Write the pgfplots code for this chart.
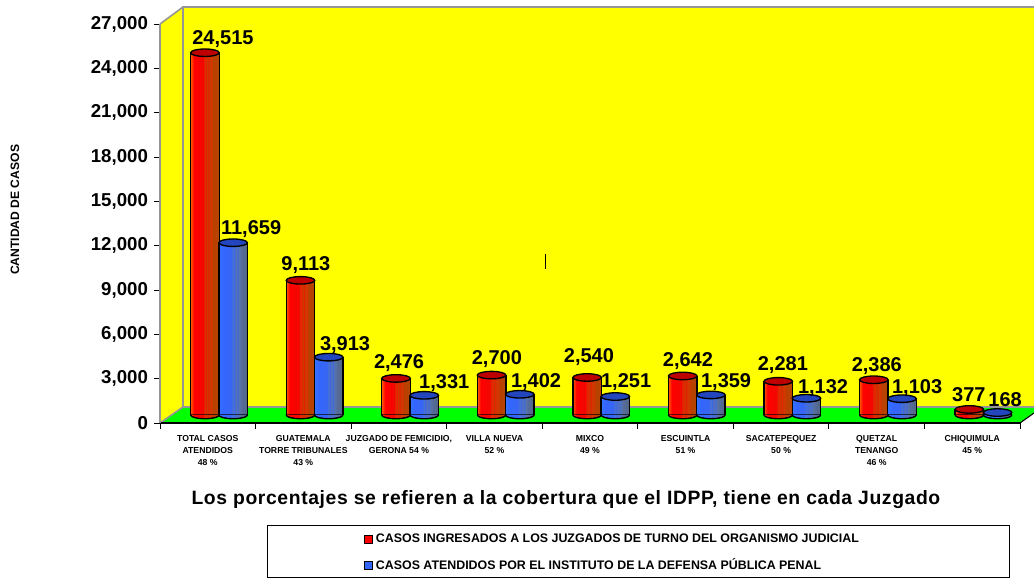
\documentclass[border=0pt]{standalone}
\usepackage{fontspec}
\setmainfont{Liberation Sans}
\usepackage{pgfplots}
\usepackage{pgfplotstable}
\pgfplotsset{compat=1.18}

\definecolor{wallYellow}{RGB}{255,255,0}
\definecolor{floorGreen}{RGB}{0,255,0}
\definecolor{wallLine}{RGB}{150,150,150}
\definecolor{redTop}{RGB}{190,0,0}
\definecolor{blueTop}{RGB}{35,70,190}
\definecolor{redLegend}{RGB}{255,0,0}
\definecolor{blueLegend}{RGB}{51,102,255}

% striped cylinder faces (25bp to 75bp is the width of the bar)
\pgfdeclarehorizontalshading{redcyl}{100bp}{
  rgb(0bp)=(1,0.35,0); rgb(25bp)=(1,0.35,0); rgb(31bp)=(1,0,0); rgb(47bp)=(0.95,0.03,0);
  rgb(50bp)=(0.85,0.2,0); rgb(51.5bp)=(0.95,0.1,0); rgb(54bp)=(0.75,0.25,0);
  rgb(56bp)=(0.9,0.12,0); rgb(59bp)=(0.78,0.25,0); rgb(61bp)=(0.85,0.2,0);
  rgb(64bp)=(0.72,0.25,0); rgb(75bp)=(0.72,0.27,0); rgb(100bp)=(0.72,0.27,0)}
\pgfdeclarehorizontalshading{bluecyl}{100bp}{
  rgb(0bp)=(0.2,0.45,1); rgb(25bp)=(0.2,0.45,1); rgb(32bp)=(0.2,0.4,1); rgb(47bp)=(0.22,0.4,0.95);
  rgb(50bp)=(0.3,0.45,0.8); rgb(52bp)=(0.22,0.4,0.9); rgb(55bp)=(0.35,0.45,0.7);
  rgb(57.5bp)=(0.25,0.42,0.85); rgb(61bp)=(0.35,0.45,0.65); rgb(65bp)=(0.33,0.42,0.6);
  rgb(75bp)=(0.33,0.4,0.52); rgb(100bp)=(0.33,0.4,0.52)}

\pgfdeclareplotmark{redtop}{\path[draw=black,line width=1pt,fill=redTop] (0pt,0pt) ellipse (10.7pt and 2.8pt);}
\pgfdeclareplotmark{bluetop}{\path[draw=black,line width=1pt,fill=blueTop] (0pt,0pt) ellipse (10.7pt and 2.8pt);}
\pgfdeclareplotmark{redbot}{%
  \path[shade,shading=redcyl] (-10.7pt,0.5pt) -- (-10.7pt,0pt) arc[start angle=180,end angle=360,x radius=10.7pt,y radius=2.8pt] -- (10.7pt,0.5pt) -- cycle;
  \path[draw=black,line width=1pt] (-10.7pt,0pt) arc[start angle=180,end angle=360,x radius=10.7pt,y radius=2.8pt];}
\pgfdeclareplotmark{bluebot}{%
  \path[shade,shading=bluecyl] (-10.7pt,0.5pt) -- (-10.7pt,0pt) arc[start angle=180,end angle=360,x radius=10.7pt,y radius=2.8pt] -- (10.7pt,0.5pt) -- cycle;
  \path[draw=black,line width=1pt] (-10.7pt,0pt) arc[start angle=180,end angle=360,x radius=10.7pt,y radius=2.8pt];}

% x, value, label offset from the top of the bar (px)
\pgfplotstableread{
x      y      dx    dy
0.355  24515  18    13.7
1.355  9113   5.4   15.3
2.355  2476   3     15.4
3.355  2700   5.3   16
4.355  2540   1.8   20.5
5.355  2642   5.2   15
6.355  2281   4.6   16.3
7.355  2386   3     13.7
8.355  377    -0.5  14.4
}\ingresados
\pgfplotstableread{
x      y      dx    dy
0.65   11659  18    13.7
1.65   3913   16.4  12.2
2.65   1331   20    12.3
3.65   1402   16.3  12.3
4.65   1251   10.8  14.5
5.65   1359   15.2  12.9
6.65   1132   16.6  10.3
7.65   1103   15.1  10.7
8.65   168    7.5   12.5
}\atendidos

\pgfplotsset{valuelabels/.style={draw=none,mark=none,forget plot,
    visualization depends on={\thisrow{dx} \as \labeldx},
    visualization depends on={\thisrow{dy} \as \labeldy},
    nodes near coords,
    every node near coord/.append style={anchor=center,inner sep=0pt,
      font=\fontsize{15}{18}\selectfont\bfseries,
      xshift={\labeldx*0.75pt}, yshift={\labeldy*0.75pt}}}}

% one plot per bar, so that the shading fits each cylinder; sides as combs
\newcommand{\cylinders}[2]{%
  \pgfplotsinvokeforeach{0,...,8}{%
    \addplot[ybar,bar width=21.4pt,bar shift=0pt,draw=none,
      shade,shading=#2,forget plot,
      x filter/.expression={and(x>=##1,x<##1+1)?x:nan}] table[x=x,y=y] {#1};}
  \addplot[ycomb,black,line width=1pt,mark=none,forget plot] table[x expr=\thisrow{x}-0.1493,y=y] {#1};
  \addplot[ycomb,black,line width=1pt,mark=none,forget plot] table[x expr=\thisrow{x}+0.1493,y=y] {#1};}

\begin{document}
\begin{tikzpicture}[x=0.75pt,y=0.75pt,font=\bfseries]
\path[use as bounding box] (0,0) rectangle (1034,578);

% walls and floor (y counted from the bottom of the picture)
\fill[wallYellow] (183,171) -- (183,571) -- (1034,571) -- (1034,171) -- cycle;
\fill[wallYellow] (160,155) -- (183,171) -- (183,571) -- (160,554) -- cycle;
\fill[floorGreen] (160,155) -- (183,171) -- (1034,171) -- (1034,165) -- (1020,155) -- cycle;
\draw[wallLine,line width=1.2pt] (160,155) -- (183,171) -- (1034,171);
\draw[wallLine,line width=1.2pt] (183,171) -- (183,571) -- (1034,571);
\draw[wallLine,line width=1.2pt] (160,554) -- (183,571);
\draw[black,line width=0.8pt] (1020,155) -- (1034,165);
\draw[black,line width=0.6pt] (545,309) -- (545,324);

% frame, ticks and labels
\begin{axis}[
    at={(120pt,116.25pt)}, anchor=origin,
    scale only axis, width=645pt, height=299.25pt,
    xmin=0, xmax=9, ymin=0, ymax=27000,
    axis lines=left, axis line style={-},
    x axis line style={black,line width=0.9pt},
    y axis line style={wallLine,line width=1.2pt},
    ytick={0,3000,...,27000},
    scaled y ticks=false,
    /pgf/number format/1000 sep={,},
    /pgf/number format/assume math mode=true,
    yticklabel style={font=\fontsize{14}{16}\selectfont\bfseries, xshift=-1pt},
    xtick={0,...,9},
    x tick label as interval,
    xticklabels={{TOTAL CASOS\\ATENDIDOS\\48 \%},
      {GUATEMALA\\TORRE TRIBUNALES\\43 \%},
      {JUZGADO DE FEMICIDIO,\\GERONA 54 \%},
      {VILLA NUEVA\\52 \%},
      {MIXCO\\49 \%},
      {ESCUINTLA\\51 \%},
      {SACATEPEQUEZ\\50 \%},
      {QUETZAL\\TENANGO\\46 \%},
      {CHIQUIMULA\\45 \%}},
    xticklabel style={font=\fontsize{6.5}{8.8}\selectfont\bfseries,
      align=center, anchor=north, yshift=-1.5pt},
    tick style={black,line width=0.7pt},
    tick align=outside, tickwidth=4.5pt,
    xlabel={\fontsize{14.5}{17}\selectfont\bfseries\addfontfeatures{LetterSpace=3.2}Los porcentajes se refieren a la cobertura que el IDPP, tiene en cada Juzgado},
    xlabel style={at={(axis description cs:0.472,-0.191)},anchor=center},
    ylabel={\fontsize{9.1}{11}\selectfont\bfseries CANTIDAD DE CASOS},
    ylabel style={at={(axis description cs:-0.1686,0.534)},anchor=center},
]
\end{axis}

% cylinders, set back on the floor
\begin{axis}[
    at={(128.25pt,122.25pt)}, anchor=origin,
    scale only axis, width=645pt, height=299.25pt,
    xmin=0, xmax=9, ymin=0, ymax=27000,
    hide axis, clip=false,
    /pgf/number format/1000 sep={,},
    /pgf/number format/assume math mode=true,
    legend style={draw=none, fill=none, font=\fontsize{9.3}{11}\selectfont\bfseries,
      at={(axis description cs:0.2245,-0.291)}, anchor=north west,
      row sep=6.6pt, inner sep=0pt, cells={anchor=west}},
    legend image code/.code={
      \draw[#1,draw=black,line width=0.7pt] (0pt,-3pt) rectangle (6pt,3pt);},
    legend cell align=left,
]
\addplot[only marks,mark=redbot,forget plot] table[x=x,y expr=0] {\ingresados};
\cylinders{\ingresados}{redcyl}
\addplot[only marks,mark=redtop,forget plot] table[x=x,y=y] {\ingresados};
\addplot[only marks,mark=bluebot,forget plot] table[x=x,y expr=0] {\atendidos};
\cylinders{\atendidos}{bluecyl}
\addplot[only marks,mark=bluetop,forget plot] table[x=x,y=y] {\atendidos};

% value labels
\addplot[valuelabels] table[x=x,y=y] {\ingresados};
\addplot[valuelabels] table[x=x,y=y] {\atendidos};

% legend
\addlegendimage{fill=redLegend}
\addlegendentry{CASOS INGRESADOS A LOS JUZGADOS DE TURNO DEL ORGANISMO JUDICIAL}
\addlegendimage{fill=blueLegend}
\addlegendentry{CASOS ATENDIDOS POR EL INSTITUTO DE LA DEFENSA PÚBLICA PENAL}
\end{axis}

% legend box
\draw[black,line width=0.6pt] (267,1) rectangle (1009,53);
\end{tikzpicture}
\end{document}
